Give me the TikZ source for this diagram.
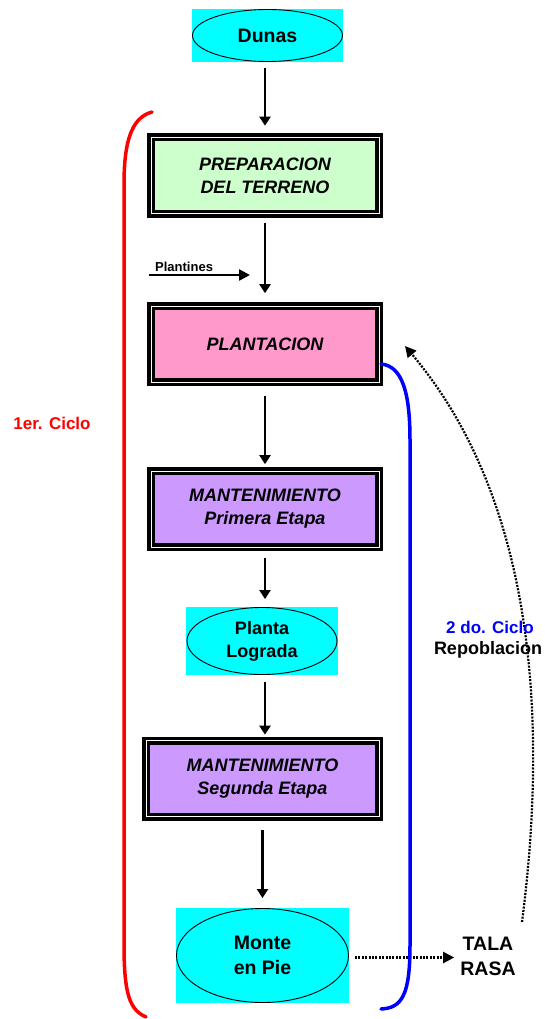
\documentclass[tikz,border=0pt]{standalone}
\usepackage{fontspec}
\setmainfont{Liberation Sans}
\usetikzlibrary{arrows.meta,shapes.geometric,backgrounds}

\definecolor{prepgreen}{HTML}{CCFFCC}
\definecolor{plantpink}{HTML}{FF99CC}
\definecolor{mantviolet}{HTML}{CC99FF}
\definecolor{ovalcyan}{HTML}{00FFFF}
\definecolor{cycred}{HTML}{FF0000}
\definecolor{cycblue}{HTML}{0000FF}

\begin{document}
\begin{tikzpicture}[x=1pt,y=-1pt,
  stagebox/.style={rectangle, draw=black, double=white, double distance=0.8pt,
    line width=3.6pt, minimum width=228pt, minimum height=76pt, inner sep=0pt,
    align=center, font=\fontsize{18}{23}\selectfont\bfseries\itshape},
  oval/.style={ellipse, draw=black, line width=0.9pt, inner sep=0pt,
    align=center},
  bigtext/.style={font=\fontsize{19.5}{25}\selectfont\bfseries},
  midtext/.style={font=\fontsize{18}{23}\selectfont\bfseries},
  arr/.style={-{Triangle[length=9pt,width=11pt]}, line width=2.2pt},
  dotarr/.style={dash pattern=on 2pt off 1.4pt, line width=2.2pt,
    -{Triangle[length=11pt,width=11pt]}},
  cycle/.style={line width=3.5pt, line cap=round}
]
\useasboundingbox (0,0) rectangle (545,1019);

% ---- stages of the first cycle ----
\node[oval, bigtext, minimum width=150pt, minimum height=52pt] (dunas) at (267.5,35.5) {Dunas};
\node[stagebox, fill=prepgreen] (prep) at (265,175.5) {PREPARACION\\DEL TERRENO};
\node[stagebox, fill=plantpink] (plant) at (265,344) {PLANTACION};
\node[stagebox, fill=mantviolet] (mant1) at (265,509) {MANTENIMIENTO\\Primera Etapa};
\node[oval, midtext, minimum width=150pt, minimum height=67pt] (lograda) at (262,641) {Planta\\Lograda};
\node[stagebox, fill=mantviolet, minimum width=233pt] (mant2) at (262.5,778.5) {MANTENIMIENTO\\Segunda Etapa};
\node[oval, bigtext, minimum width=172pt, minimum height=94pt] (monte) at (262.5,955.5) {Monte\\en Pie};

% cyan frames behind the ovals
\begin{scope}[on background layer]
  \foreach \n in {dunas,lograda,monte}
    \fill[ovalcyan] ([xshift=-0.5pt]\n.west |- \n.north) rectangle ([xshift=0.5pt]\n.east |- \n.south);
\end{scope}

% ---- flow arrows ----
\draw[arr, shorten <=6pt, shorten >=10pt] (prep.north |- dunas.south) -- (prep.north);
\draw[arr, shorten <=8pt, shorten >=11pt] (prep.south) -- (plant.north);
\draw[arr, shorten <=12pt, shorten >=5pt] (plant.south) -- (mant1.north);
\draw[arr, shorten <=9pt, shorten >=8pt] (mant1.south) -- (mant1.south |- lograda.north);
\draw[arr, shorten <=7pt, shorten >=4pt] (mant1.south |- lograda.south) -- (mant1.south |- mant2.north);
\draw[arr, shorten <=12pt, shorten >=10pt] (monte.north |- mant2.south) -- (monte.north);

% seedlings entering the plantation
\coordinate (plfrom) at (149,275);
\coordinate (plto) at (250,275);
\node[anchor=base west, inner sep=0pt, font=\fontsize{13}{15}\selectfont\bfseries] (plantines) at (155,271) {Plantines};
\draw[arr, line width=2.4pt, -{Triangle[length=11pt,width=11pt]}] (plfrom) -- (plto);

% ---- clear-cut and second cycle ----
\node[bigtext, align=center, inner sep=0pt] (tala) at (488,956) {TALA\\RASA};
\draw[dotarr, shorten <=6pt, shorten >=6pt] ([yshift=-2pt]monte.east) -- ([yshift=-2pt]monte.east -| tala.west);

\coordinate (regrow) at (522,922);
\coordinate (replant) at (405,346);
\draw[dotarr] (regrow) .. controls (548,720) and (535,500) .. (replant);

% ---- cycle brackets ----
\draw[cycle, cycred] (152,112) .. controls (130,118) and (124,145) .. (124,185)
  -- (124,945) .. controls (124,995) and (130,1010) .. (146,1017);
\coordinate (cyc2start) at (381,364);
\draw[cycle, cycblue] (cyc2start) .. controls (402,366) and (410,392) .. (410,440)
  -- (410,945) .. controls (410,995) and (402,1008) .. (381,1009);

\node[text=cycred, font=\fontsize{17}{20}\selectfont\bfseries] (ciclo1) at (52,423) {1er. Ciclo};
\node[text=cycblue, font=\fontsize{17}{20}\selectfont\bfseries] (ciclo2) at (490,627) {2 do. Ciclo};
\node[font=\fontsize{18}{20}\selectfont\bfseries] (repob) at (488,650) {Repoblacion};
\end{tikzpicture}
\end{document}
